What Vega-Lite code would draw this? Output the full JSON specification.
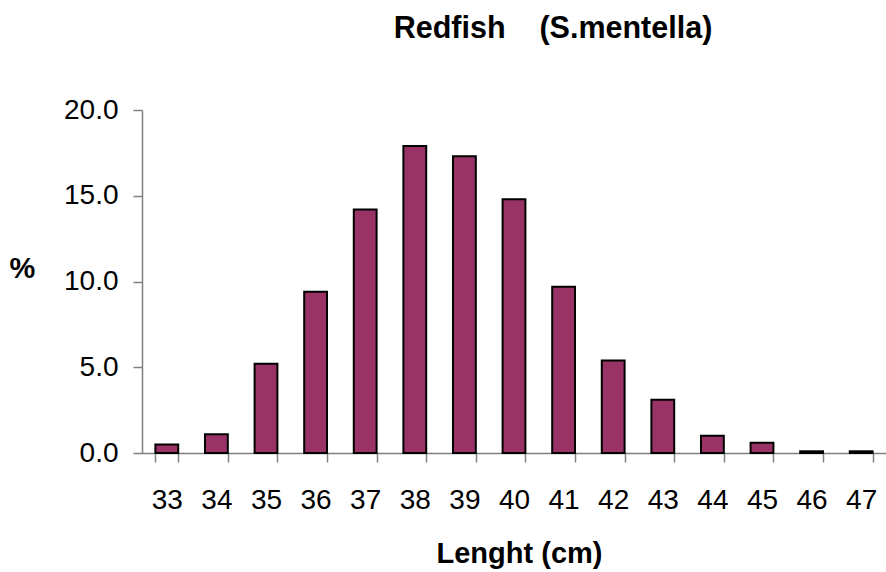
{
  "$schema": "https://vega.github.io/schema/vega-lite/v6.json",
  "width": 744,
  "height": 343,
  "autosize": "none",
  "padding": {"left": 142, "top": 110, "right": 0, "bottom": 119},
  "background": "white",
  "title": {
    "text": "Redfish\u00a0\u00a0\u00a0\u00a0(S.mentella)",
    "font": "Liberation Sans",
    "fontSize": 30.5,
    "fontWeight": "bold",
    "color": "black",
    "anchor": "middle",
    "baseline": "alphabetic",
    "dx": 39,
    "offset": 28
  },
  "config": {
    "view": {"stroke": null},
    "font": "Liberation Sans"
  },
  "data": {
    "values": [
      {"length": 33, "pct": 0.5},
      {"length": 34, "pct": 1.1},
      {"length": 35, "pct": 5.2},
      {"length": 36, "pct": 9.4},
      {"length": 37, "pct": 14.2},
      {"length": 38, "pct": 17.9},
      {"length": 39, "pct": 17.3},
      {"length": 40, "pct": 14.8},
      {"length": 41, "pct": 9.7},
      {"length": 42, "pct": 5.4},
      {"length": 43, "pct": 3.1},
      {"length": 44, "pct": 1.0},
      {"length": 45, "pct": 0.6},
      {"length": 46, "pct": 0.1},
      {"length": 47, "pct": 0.1}
    ]
  },
  "mark": {"type": "bar", "fill": "#993366", "stroke": "black", "strokeWidth": 2},
  "encoding": {
    "x": {
      "field": "length",
      "type": "ordinal",
      "scale": {"paddingInner": 0.54, "paddingOuter": 0.27},
      "axis": {
        "title": "Lenght (cm)",
        "titleFont": "Liberation Sans",
        "titleFontSize": 29,
        "titleFontWeight": "bold",
        "titleColor": "black",
        "titleBaseline": "alphabetic",
        "titleY": 109,
        "titleX": 377,
        "labelAngle": 0,
        "labelFont": "Liberation Sans",
        "labelFontSize": 28,
        "labelColor": "black",
        "labelBaseline": "alphabetic",
        "labelPadding": 46,
        "tickBand": "extent",
        "tickSize": 9,
        "tickColor": "#808080",
        "tickWidth": 1.5,
        "domainColor": "#808080",
        "domainWidth": 1.5
      }
    },
    "y": {
      "field": "pct",
      "type": "quantitative",
      "scale": {"domain": [0, 20], "nice": false},
      "axis": {
        "title": "%",
        "titleFont": "Liberation Sans",
        "titleFontSize": 29,
        "titleFontWeight": "bold",
        "titleColor": "black",
        "titleAngle": 0,
        "titleAlign": "center",
        "titleBaseline": "alphabetic",
        "titleX": -120,
        "titleY": 167,
        "values": [0, 5, 10, 15, 20],
        "format": ".1f",
        "grid": false,
        "labelFont": "Liberation Sans",
        "labelFontSize": 28,
        "labelColor": "black",
        "labelPadding": 15,
        "tickSize": 9,
        "tickColor": "#808080",
        "tickWidth": 1.5,
        "domainColor": "#808080",
        "domainWidth": 1.5
      }
    }
  }
}
